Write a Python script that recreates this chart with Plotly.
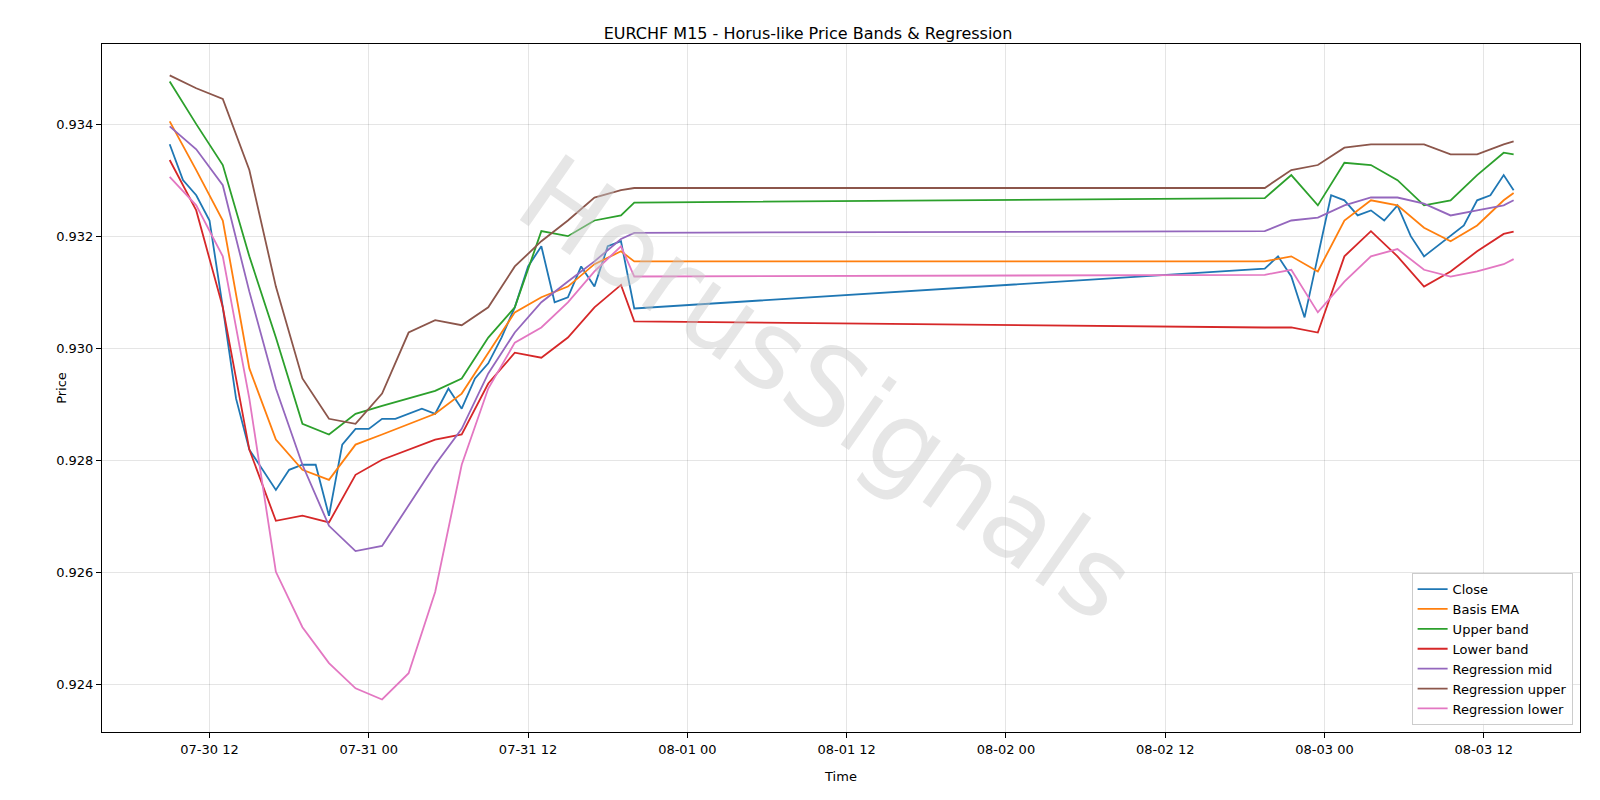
import plotly.graph_objects as go

# Close (hourly samples)
close_t1 = ["2025-07-30 09:00","2025-07-30 10:00","2025-07-30 11:00","2025-07-30 12:00","2025-07-30 13:00","2025-07-30 14:00",
            "2025-07-30 15:00","2025-07-30 16:00","2025-07-30 17:00","2025-07-30 18:00","2025-07-30 19:00","2025-07-30 20:00",
            "2025-07-30 21:00","2025-07-30 22:00","2025-07-30 23:00","2025-07-31 00:00","2025-07-31 01:00","2025-07-31 02:00",
            "2025-07-31 03:00","2025-07-31 04:00","2025-07-31 05:00","2025-07-31 06:00","2025-07-31 07:00","2025-07-31 08:00",
            "2025-07-31 09:00","2025-07-31 10:00","2025-07-31 11:00","2025-07-31 12:00","2025-07-31 13:00","2025-07-31 14:00",
            "2025-07-31 15:00","2025-07-31 16:00","2025-07-31 17:00","2025-07-31 18:00","2025-07-31 19:00","2025-07-31 20:00"]
close_v1 = [0.93364,0.93300,0.93273,0.93228,0.93073,0.92910,0.92819,0.92783,0.92747,0.92783,0.92792,0.92792,
            0.92701,0.92828,0.92856,0.92856,0.92874,0.92874,0.92883,0.92892,0.92883,0.92928,0.92892,0.92946,
            0.92973,0.93019,0.93073,0.93146,0.93182,0.93082,0.93091,0.93146,0.93110,0.93182,0.93191,0.93071]
close_t2 = ["2025-08-02 19:30","2025-08-02 20:30","2025-08-02 21:30","2025-08-02 22:30","2025-08-02 23:30","2025-08-03 00:30",
            "2025-08-03 01:30","2025-08-03 02:30","2025-08-03 03:30","2025-08-03 04:30","2025-08-03 05:30","2025-08-03 06:30",
            "2025-08-03 07:30","2025-08-03 08:30","2025-08-03 09:30","2025-08-03 10:30","2025-08-03 11:30","2025-08-03 12:30",
            "2025-08-03 13:30","2025-08-03 14:15"]
close_v2 = [0.93142,0.93164,0.93128,0.93055,0.93164,0.93273,0.93264,0.93237,0.93246,0.93228,0.93255,0.93200,
            0.93164,0.93182,0.93200,0.93219,0.93264,0.93273,0.93309,0.93282]

# Smooth series (2-hour samples)
band_t1 = ["2025-07-30 09:00","2025-07-30 11:00","2025-07-30 13:00","2025-07-30 15:00","2025-07-30 17:00","2025-07-30 19:00",
           "2025-07-30 21:00","2025-07-30 23:00","2025-07-31 01:00","2025-07-31 03:00","2025-07-31 05:00","2025-07-31 07:00",
           "2025-07-31 09:00","2025-07-31 11:00","2025-07-31 13:00","2025-07-31 15:00","2025-07-31 17:00","2025-07-31 19:00",
           "2025-07-31 20:00"]
band_t2 = ["2025-08-02 19:30","2025-08-02 21:30","2025-08-02 23:30","2025-08-03 01:30","2025-08-03 03:30","2025-08-03 05:30",
           "2025-08-03 07:30","2025-08-03 09:30","2025-08-03 11:30","2025-08-03 13:30","2025-08-03 14:15"]

basis_v1 = [0.93405,0.93318,0.93228,0.92964,0.92837,0.92783,0.92765,0.92828,0.92846,0.92865,0.92883,0.92919,
            0.92992,0.93064,0.93091,0.93110,0.93150,0.93173,0.93155]
basis_v2 = [0.93155,0.93164,0.93137,0.93228,0.93264,0.93255,0.93215,0.93191,0.93219,0.93264,0.93277]
upper_v1 = [0.93476,0.93400,0.93327,0.93164,0.93019,0.92865,0.92846,0.92883,0.92897,0.92910,0.92924,0.92946,
            0.93019,0.93073,0.93209,0.93200,0.93228,0.93237,0.93260]
upper_v2 = [0.93268,0.93309,0.93255,0.93331,0.93327,0.93300,0.93255,0.93264,0.93309,0.93349,0.93346]
lower_v1 = [0.93336,0.93246,0.93073,0.92819,0.92692,0.92701,0.92689,0.92774,0.92801,0.92819,0.92837,0.92846,
            0.92937,0.92992,0.92983,0.93019,0.93073,0.93113,0.93048]
lower_v2 = [0.93037,0.93037,0.93028,0.93164,0.93209,0.93164,0.93110,0.93137,0.93173,0.93204,0.93208]
regmid_v1 = [0.93396,0.93355,0.93291,0.93101,0.92928,0.92792,0.92683,0.92638,0.92647,0.92719,0.92792,0.92856,
             0.92955,0.93028,0.93082,0.93119,0.93155,0.93195,0.93206]
regmid_v2 = [0.93209,0.93228,0.93233,0.93255,0.93269,0.93269,0.93258,0.93237,0.93246,0.93255,0.93264]
regup_v1 = [0.93487,0.93464,0.93445,0.93318,0.93110,0.92946,0.92874,0.92865,0.92919,0.93028,0.93050,0.93041,
            0.93073,0.93146,0.93191,0.93228,0.93269,0.93282,0.93286]
regup_v2 = [0.93286,0.93318,0.93327,0.93358,0.93364,0.93364,0.93364,0.93346,0.93346,0.93364,0.93369]
reglo_v1 = [0.93306,0.93255,0.93164,0.92910,0.92601,0.92502,0.92438,0.92393,0.92373,0.92420,0.92565,0.92792,
            0.92928,0.93010,0.93037,0.93082,0.93137,0.93182,0.93128]
reglo_v2 = [0.93131,0.93140,0.93064,0.93119,0.93164,0.93177,0.93140,0.93128,0.93137,0.93150,0.93159]

series = [
    ("Close", close_t1 + close_t2, close_v1 + close_v2, "#1f77b4"),
    ("Basis EMA", band_t1 + band_t2, basis_v1 + basis_v2, "#ff7f0e"),
    ("Upper band", band_t1 + band_t2, upper_v1 + upper_v2, "#2ca02c"),
    ("Lower band", band_t1 + band_t2, lower_v1 + lower_v2, "#d62728"),
    ("Regression mid", band_t1 + band_t2, regmid_v1 + regmid_v2, "#9467bd"),
    ("Regression upper", band_t1 + band_t2, regup_v1 + regup_v2, "#8c564b"),
    ("Regression lower", band_t1 + band_t2, reglo_v1 + reglo_v2, "#e377c2"),
]

fig = go.Figure()
for name, t, v, c in series:
    fig.add_trace(go.Scatter(x=t, y=v, name=name, mode="lines",
                             line=dict(color=c, width=1.8)))

fig.add_annotation(text="HorusSignals", x=0.49, y=0.5, xref="paper", yref="paper",
                   showarrow=False, textangle=35,
                   font=dict(size=110, color="rgba(200,200,200,0.45)", family="DejaVu Sans"))

axis = dict(showgrid=True, gridcolor="rgba(0,0,0,0.1)", showline=True, linecolor="black",
            mirror=True, ticks="outside", tickcolor="black", zeroline=False,
            tickfont=dict(size=13, color="black"))
fig.update_layout(
    width=1600, height=800, template=None, plot_bgcolor="white", paper_bgcolor="white",
    margin=dict(l=94, r=28, t=36, b=76),
    font=dict(family="DejaVu Sans", color="black"),
    title=dict(text="EURCHF M15 - Horus-like Price Bands & Regression", x=0.5, y=0.975,
               xanchor="center", font=dict(size=16)),
    xaxis=dict(axis, title=dict(text="Time", font=dict(size=13)), dtick=12*3600*1000,
               tick0="2025-07-30 00:00", tickformat="%m-%d %H",
               range=["2025-07-30 03:54", "2025-08-03 19:15"]),
    yaxis=dict(axis, title=dict(text="Price", font=dict(size=13)), dtick=0.002,
               tickformat=".3f", range=[0.92315, 0.93543]),
    legend=dict(x=0.995, y=0.01, xanchor="right", yanchor="bottom", bordercolor="#ccc",
                borderwidth=1, bgcolor="rgba(255,255,255,0.85)", font=dict(size=13)),
)
fig.write_html("out.html")
